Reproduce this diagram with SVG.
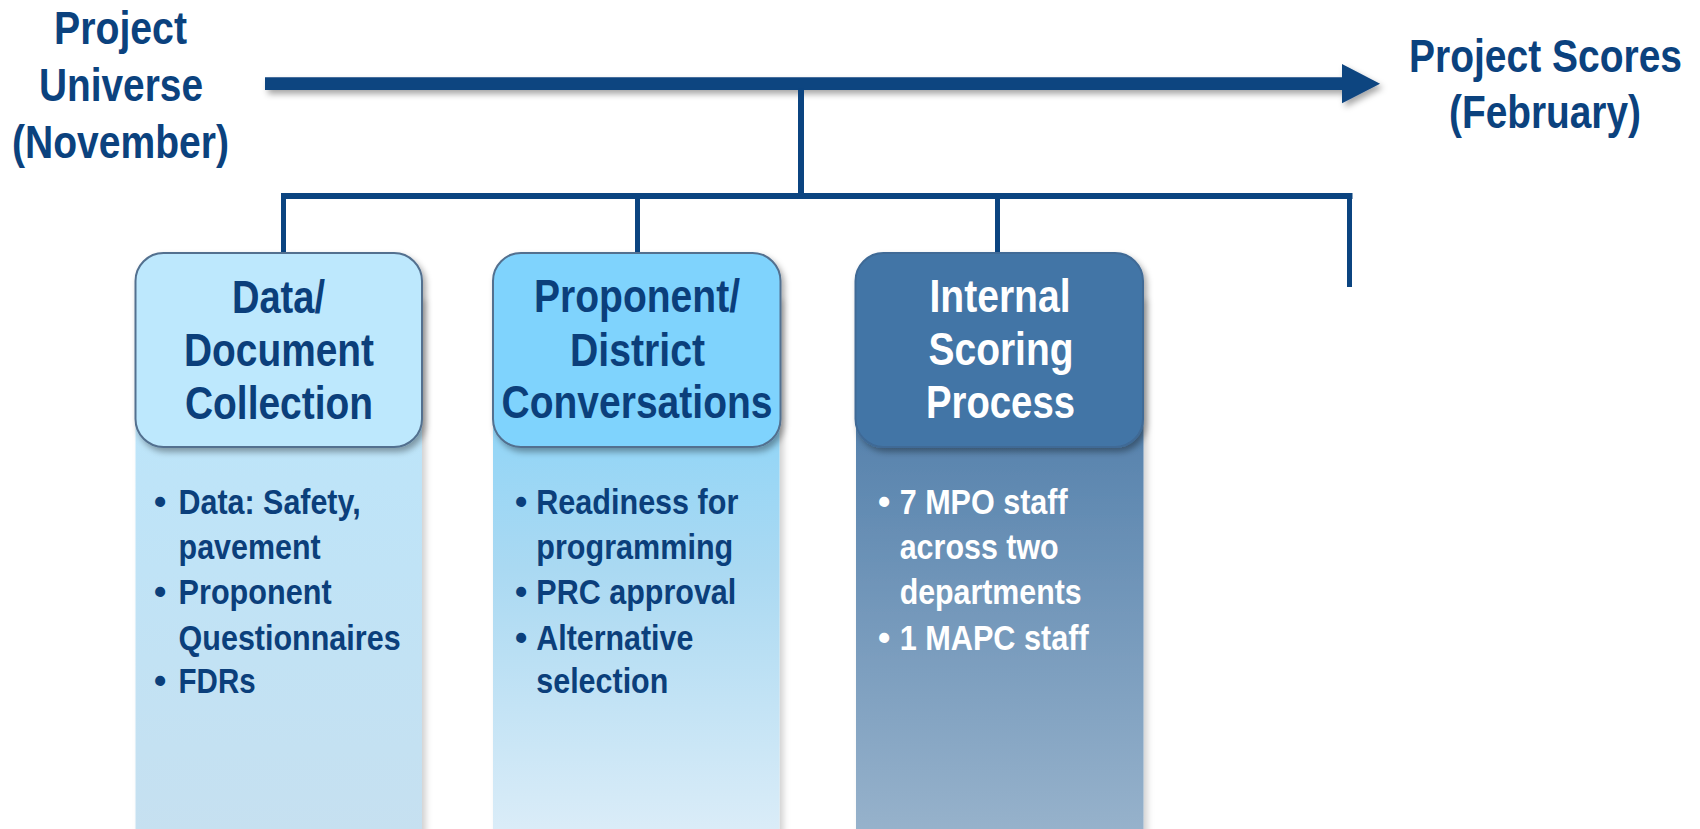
<svg xmlns="http://www.w3.org/2000/svg" width="1700" height="829" viewBox="0 0 1700 829">
  <defs>
    <style>
      .t { font-family: "Liberation Sans", Arial, sans-serif; font-weight: bold; }
      .title { font-size: 46px; fill: #0b427e; text-anchor: middle; }
      .head { font-size: 46px; text-anchor: middle; }
      .navy { fill: #0b3f7b; }
      .white { fill: #ffffff; }
      .bul { font-size: 35px; }
      .line { fill: #0b4480; }
      .hdr { stroke: #52708f; stroke-width: 2; }
    </style>
    <filter id="sh" x="-10%" y="-20%" width="130%" height="160%">
      <feDropShadow dx="3" dy="4" stdDeviation="3" flood-color="#000" flood-opacity="0.35"/>
    </filter>
    <filter id="shc" x="-10%" y="-5%" width="130%" height="115%">
      <feDropShadow dx="4" dy="0" stdDeviation="3" flood-color="#000" flood-opacity="0.18"/>
    </filter>
    <linearGradient id="g1" x1="0" y1="0" x2="0" y2="1">
      <stop offset="0" stop-color="#bae6fc"/>
      <stop offset="1" stop-color="#c6e0f0"/>
    </linearGradient>
    <linearGradient id="g2" x1="0" y1="0" x2="0" y2="1">
      <stop offset="0" stop-color="#7dd2fb"/>
      <stop offset="0.5" stop-color="#aad9f2"/>
      <stop offset="1" stop-color="#dcedf8"/>
    </linearGradient>
    <linearGradient id="g3" x1="0" y1="0" x2="0" y2="1">
      <stop offset="0" stop-color="#4273a3"/>
      <stop offset="1" stop-color="#98b3cc"/>
    </linearGradient>
  </defs>

  <rect width="1700" height="829" fill="#ffffff"/>

  <g id="connectors">
    <path class="line" filter="url(#sh)" d="M265,77.3 H1342 V64 L1380,83.7 L1342,103.3 V90 H265 Z"/>
    <rect class="line" x="798" y="88" width="6" height="111"/>
    <rect class="line" x="281.5" y="193" width="1071" height="6"/>
    <rect class="line" x="281" y="193" width="5" height="60"/>
    <rect class="line" x="635" y="193" width="5" height="60"/>
    <rect class="line" x="995" y="193" width="5" height="60"/>
    <rect class="line" x="1347" y="193" width="5" height="94"/>
  </g>

  <g id="node-start">
    <text class="t title" x="120.5" y="44" textLength="133" lengthAdjust="spacingAndGlyphs">Project</text>
    <text class="t title" x="121" y="100.5" textLength="164" lengthAdjust="spacingAndGlyphs">Universe</text>
    <text class="t title" x="120.5" y="158" textLength="217" lengthAdjust="spacingAndGlyphs">(November)</text>
  </g>

  <g id="node-end">
    <text class="t title" style="font-size:39px" transform="translate(1545.5,71.7) scale(1,1.18)" x="0" y="0" textLength="273" lengthAdjust="spacingAndGlyphs">Project Scores</text>
    <text class="t title" x="1545" y="128" textLength="192" lengthAdjust="spacingAndGlyphs">(February)</text>
  </g>

  <g id="node-data">
    <rect x="135.5" y="300" width="286.5" height="540" fill="url(#g1)" filter="url(#shc)"/>
    <rect class="hdr" x="135.5" y="253" width="286.5" height="194" rx="28" fill="#bde8fd" filter="url(#sh)"/>
    <text class="t head navy" x="278.5" y="313" textLength="93" lengthAdjust="spacingAndGlyphs">Data/</text>
    <text class="t head navy" x="279" y="366" textLength="190" lengthAdjust="spacingAndGlyphs">Document</text>
    <text class="t head navy" x="279" y="419" textLength="188" lengthAdjust="spacingAndGlyphs">Collection</text>
    <g class="t bul navy">
      <text x="154" y="514">•</text>
      <text x="178.6" y="514" textLength="182" lengthAdjust="spacingAndGlyphs">Data: Safety,</text>
      <text x="178.6" y="559" textLength="142" lengthAdjust="spacingAndGlyphs">pavement</text>
      <text x="154" y="604">•</text>
      <text x="178.6" y="604" textLength="153" lengthAdjust="spacingAndGlyphs">Proponent</text>
      <text x="178.6" y="650" textLength="222" lengthAdjust="spacingAndGlyphs">Questionnaires</text>
      <text x="154" y="693">•</text>
      <text x="178.6" y="693" textLength="77" lengthAdjust="spacingAndGlyphs">FDRs</text>
    </g>
  </g>

  <g id="node-proponent">
    <rect x="493" y="300" width="286.5" height="540" fill="url(#g2)" filter="url(#shc)"/>
    <rect class="hdr" x="493" y="253" width="287.5" height="194" rx="28" fill="#7fd3fd" filter="url(#sh)"/>
    <text class="t head navy" x="637" y="312" textLength="206" lengthAdjust="spacingAndGlyphs">Proponent/</text>
    <text class="t head navy" x="637.5" y="366" textLength="135" lengthAdjust="spacingAndGlyphs">District</text>
    <text class="t head navy" x="637" y="418" textLength="271" lengthAdjust="spacingAndGlyphs">Conversations</text>
    <g class="t bul navy">
      <text x="515" y="514">•</text>
      <text x="536.3" y="514" textLength="202" lengthAdjust="spacingAndGlyphs">Readiness for</text>
      <text x="536.3" y="559" textLength="197" lengthAdjust="spacingAndGlyphs">programming</text>
      <text x="515" y="604">•</text>
      <text x="536.3" y="604" textLength="200" lengthAdjust="spacingAndGlyphs">PRC approval</text>
      <text x="515" y="650">•</text>
      <text x="536.3" y="650" textLength="157" lengthAdjust="spacingAndGlyphs">Alternative</text>
      <text x="536.3" y="693" textLength="132" lengthAdjust="spacingAndGlyphs">selection</text>
    </g>
  </g>

  <g id="node-internal">
    <rect x="856" y="300" width="287.5" height="540" fill="url(#g3)" filter="url(#shc)"/>
    <rect x="855.5" y="253" width="287.5" height="194" rx="28" fill="#4375a6" stroke="#3f6a96" stroke-width="2" filter="url(#sh)"/>
    <text class="t head white" x="1000" y="312" textLength="141" lengthAdjust="spacingAndGlyphs">Internal</text>
    <text class="t head white" x="1001" y="365" textLength="145" lengthAdjust="spacingAndGlyphs">Scoring</text>
    <text class="t head white" x="1000.5" y="418" textLength="149" lengthAdjust="spacingAndGlyphs">Process</text>
    <g class="t bul white">
      <text x="878" y="514">•</text>
      <text x="899.7" y="514" textLength="168" lengthAdjust="spacingAndGlyphs">7 MPO staff</text>
      <text x="899.7" y="559" textLength="159" lengthAdjust="spacingAndGlyphs">across two</text>
      <text x="899.7" y="604" textLength="182" lengthAdjust="spacingAndGlyphs">departments</text>
      <text x="878" y="650">•</text>
      <text x="899.7" y="650" textLength="189" lengthAdjust="spacingAndGlyphs">1 MAPC staff</text>
    </g>
  </g>
</svg>
